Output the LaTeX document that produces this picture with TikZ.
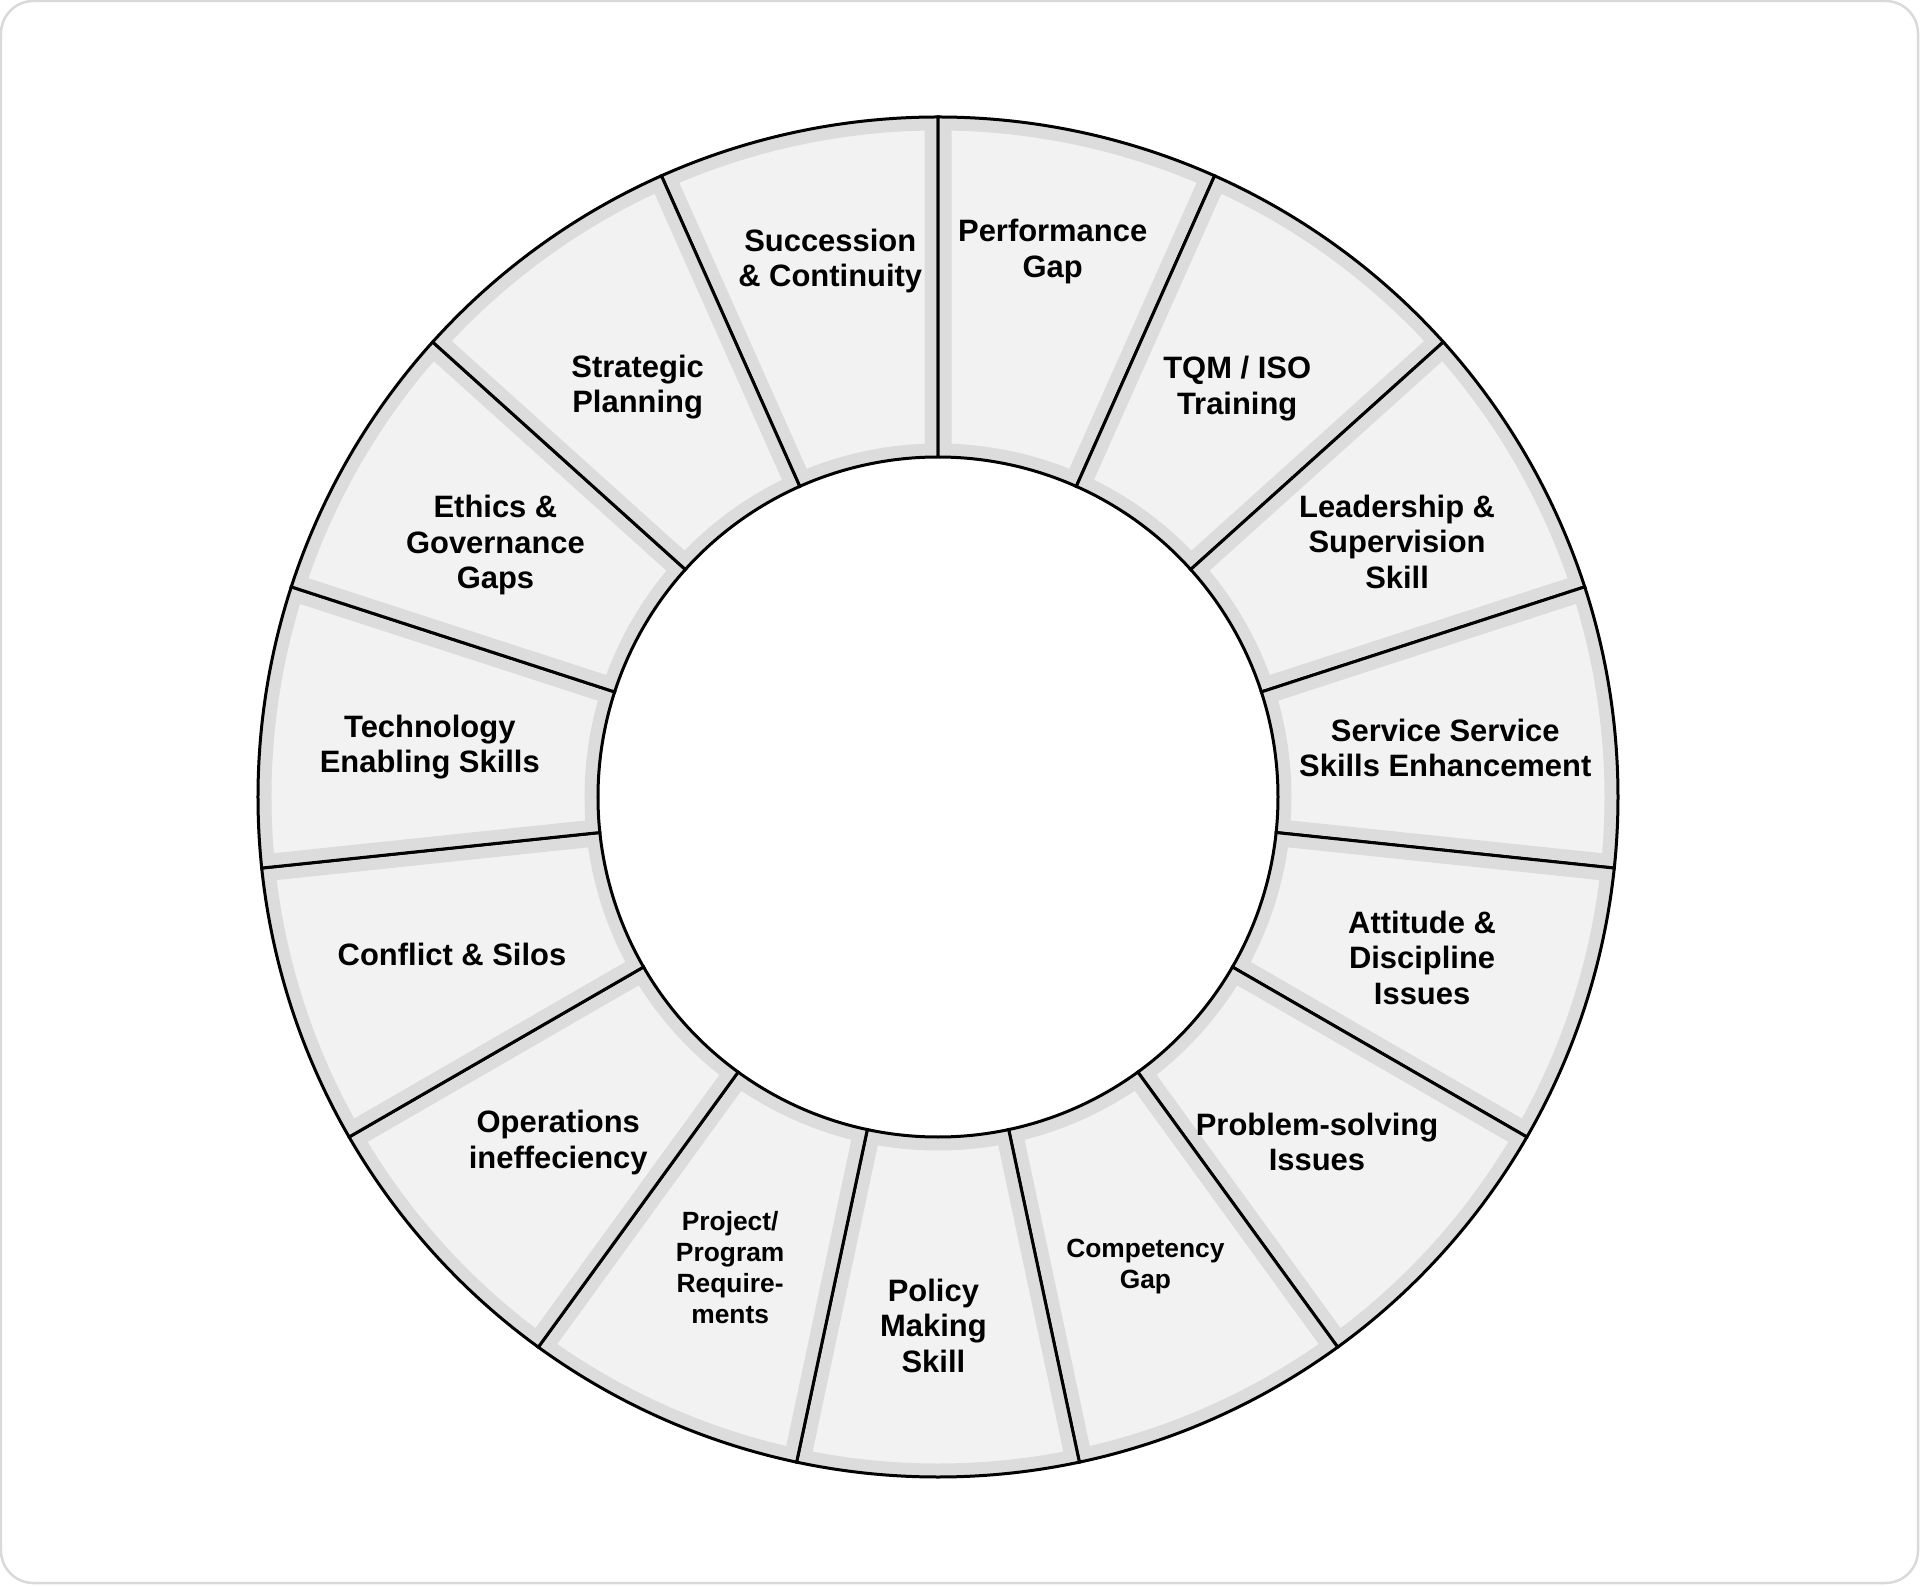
\documentclass[tikz,border=0pt]{standalone}
\usepackage{fontspec}
\setmainfont{Liberation Sans}
\usepackage{xcolor}
\definecolor{segfillgray}{HTML}{F2F2F2}
\definecolor{segbandgray}{HTML}{DCDCDC}
\definecolor{framegray}{HTML}{D9D9D9}
\usepackage{tikz}
\usetikzlibrary{calc}

\newcommand{\rin}{6.8}
\newcommand{\rout}{13.6}
% one sector of the ring, from #1 to #1+24 degrees
\newcommand{\wheelseg}[1]{%
  \begin{scope}
    \clip (#1:\rin) arc[start angle=#1, delta angle=24, radius=\rin] -- ({#1+24}:\rout) arc[start angle={#1+24}, delta angle=-24, radius=\rout] -- cycle;
    \fill[segfillgray] (0,0) circle (\rout);
    \draw[segbandgray, line width=0.54cm] (#1:\rin) arc[start angle=#1, delta angle=24, radius=\rin] -- ({#1+24}:\rout) arc[start angle={#1+24}, delta angle=-24, radius=\rout] -- cycle;
  \end{scope}
  \draw[black, line width=0.06cm] (#1:\rin) arc[start angle=#1, delta angle=24, radius=\rin] -- ({#1+24}:\rout) arc[start angle={#1+24}, delta angle=-24, radius=\rout] -- cycle;
}

\begin{document}
\begin{tikzpicture}[
    lbl/.style={align=center, inner sep=0pt, yshift=-2pt, font=\bfseries\fontsize{17.6}{20.2}\selectfont},
    lblsmall/.style={lbl, font=\bfseries\fontsize{15}{17.6}\selectfont}]
    \useasboundingbox (-18.76,-15.76) rectangle (19.64,15.94);
    \draw[framegray, line width=0.05cm, rounded corners=0.65cm] (-18.74,-15.72) rectangle (19.6,15.92);

    \wheelseg{90}
    \wheelseg{66}
    \wheelseg{42}
    \wheelseg{18}
    \wheelseg{-6}
    \wheelseg{-30}
    \wheelseg{-54}
    \wheelseg{-78}
    \wheelseg{-102}
    \wheelseg{-126}
    \wheelseg{-150}
    \wheelseg{-174}
    \wheelseg{162}
    \wheelseg{138}
    \wheelseg{114}

    \node[lbl] (succ) at (101.3:11.0) {Succession\\\& Continuity};
    \node[lbl] (perf) at (78.2:11.22) {Performance\\Gap};
    \node[lbl] (tqm) at (54:10.18) {TQM / ISO\\Training};
    \node[lbl] (lead) at (29.4:10.54) {Leadership \&\\Supervision\\Skill};
    \node[lbl] (serv) at (5.9:10.2) {Service Service\\Skills Enhancement};
    \node[lbl] (atti) at (-18:10.18) {Attitude \&\\Discipline\\Issues};
    \node[lbl] (prob) at (-42:10.2) {Problem-solving\\Issues};
    \node[lblsmall] (comp) at (-66:10.2) {Competency\\Gap};
    \node[lbl] (poli) at (-90.5:10.5) {Policy\\Making\\Skill};
    \node[lblsmall] (proj) at (-114:10.22) {Project/\\Program\\Require-\\ments};
    \node[lbl] (oper) at (-138:10.22) {Operations\\ineffeciency};
    \node[lbl, yshift=2pt] (conf) at (-162:10.22) {Conflict \& Silos};
    \node[lbl] (tech) at (174:10.22) {Technology\\Enabling Skills};
    \node[lbl] (ethi) at (150:10.22) {Ethics \&\\Governance\\Gaps};
    \node[lbl] (stra) at (126:10.22) {Strategic\\Planning};
\end{tikzpicture}
\end{document}
